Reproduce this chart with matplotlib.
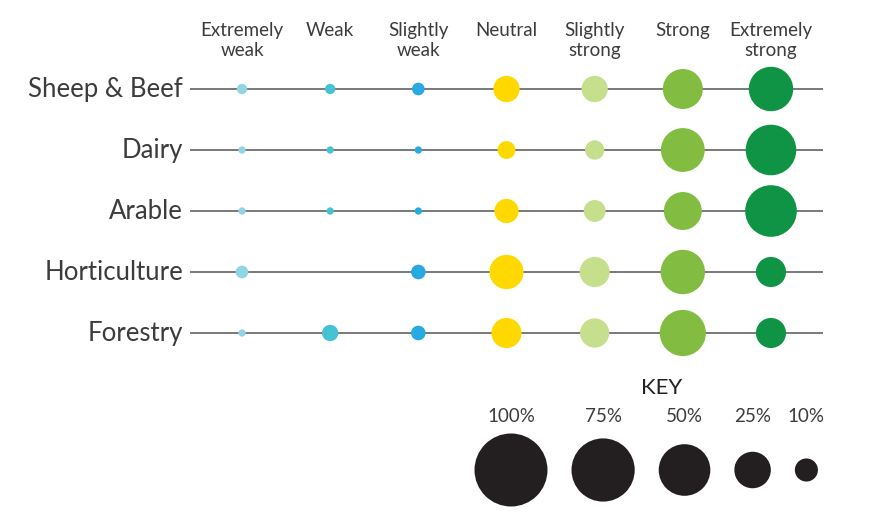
import matplotlib.pyplot as plt
import numpy as np

plt.rcParams['font.family'] = ['Lato', 'DejaVu Sans']

levels = ['Extremely\nweak', 'Weak', 'Slightly\nweak', 'Neutral',
          'Slightly\nstrong', 'Strong', 'Extremely\nstrong']
sectors = ['Sheep & Beef', 'Dairy', 'Arable', 'Horticulture', 'Forestry']
# share of respondents (%) per sector
sheep_beef = [2, 2, 3, 13, 13, 30, 37]
dairy = [1, 1, 1, 6, 7, 36, 48]
arable = [1, 1, 1, 11, 9, 27, 50]
horticulture = [3, 0, 4, 22, 17, 37, 17]
forestry = [1, 5, 4, 17, 16, 40, 17]
key_values = [100, 75, 50, 25, 10]
key_labels = ['100%', '75%', '50%', '25%', '10%']

colors = ['#8fd5e4', '#45c3d5', '#27a9e1', '#ffd800', '#c6df8d', '#82bd41', '#0e9444']
text_col = '#3c3c3c'

DPI = 100
W, H = 870, 523
MAX_D = 73  # px diameter of a 100% bubble


def size_of(v):
    d_pt = MAX_D * 72 / DPI * np.sqrt(np.asarray(v, dtype=float) / 100)
    return d_pt ** 2


fig = plt.figure(figsize=(W / DPI, H / DPI), dpi=DPI)

# main grid: columns at x=242..771 px, rows at y=89..333 px
ax = fig.add_axes([190 / W, 1 - 363.5 / H, (823 - 190) / W, 305 / H])
ax.set_xlim(-0.59, 6.59)
ax.set_ylim(4.5, -0.5)
ax.axis('off')

rows = [sheep_beef, dairy, arable, horticulture, forestry]
xs = np.arange(len(levels))
for j, vals in enumerate(rows):
    ax.axhline(j, color='#555555', lw=1.1, zorder=1)
    vals = np.array(vals)
    m = vals > 0
    ax.scatter(xs[m], np.full(m.sum(), j), s=size_of(vals[m]),
               c=np.array(colors)[m], linewidths=0, zorder=2, clip_on=False)
    ax.text(-0.67, j + 0.01, sectors[j], ha='right', va='center', fontsize=18.5,
            color=text_col)

for i, lab in enumerate(levels):
    ax.text(i, -1.10, lab, ha='center', va='top', fontsize=13.5,
            color=text_col, linespacing=1.22)

# key in pixel coordinates, bubbles spaced with a constant 24 px gap
kax = fig.add_axes([0, 0, 1, 1])
kax.set_xlim(0, W)
kax.set_ylim(H, 0)
kax.axis('off')
diam = MAX_D * np.sqrt(np.array(key_values) / 100)
kx = 474.5 + np.cumsum(diam) - diam / 2 + 24 * np.arange(len(diam))
kax.scatter(kx, np.full(len(kx), 470), s=size_of(key_values), c='#231f20',
            linewidths=0)
for x, lab in zip(kx, key_labels):
    kax.text(x, 417, lab, ha='center', va='center', fontsize=13.5,
             color=text_col)
kax.text(662, 388, 'KEY', ha='center', va='center', fontsize=16,
         color='#222222')

fig.savefig('out.png', dpi=DPI)
